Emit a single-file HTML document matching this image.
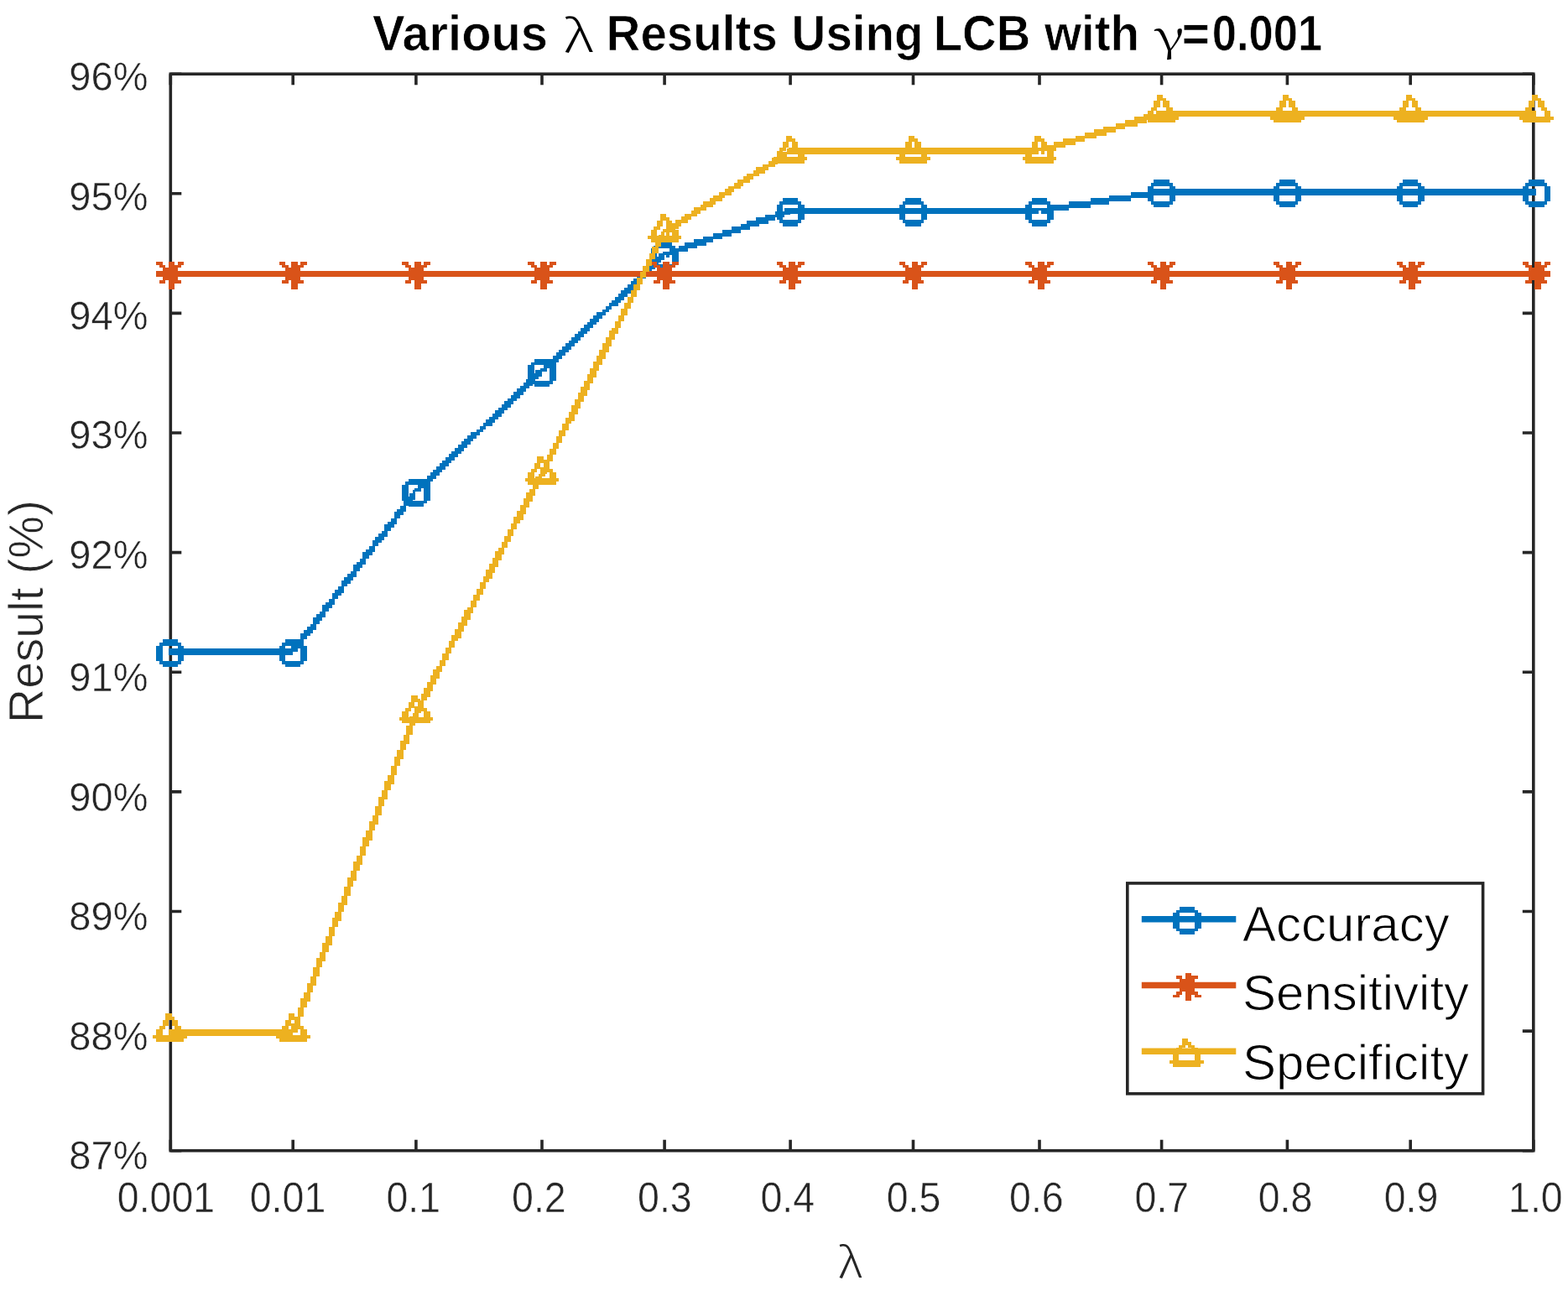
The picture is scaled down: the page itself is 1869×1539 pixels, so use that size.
<!DOCTYPE html>
<html><head><meta charset="utf-8"><title>Various lambda Results Using LCB</title>
<style>
html,body{margin:0;padding:0;background:#fff;}
body{width:1869px;height:1539px;overflow:hidden;}
svg{display:block;}
text{font-family:"Liberation Sans",Arial,Helvetica,sans-serif;}
.g{font-family:"Liberation Serif","DejaVu Serif",serif;font-weight:normal;}
.gl{font-family:"Noto Sans CJK SC","Liberation Serif",serif;}
.gg{font-family:"Noto Serif CJK SC","Liberation Serif",serif;}
</style></head><body>
<svg width="1869" height="1539" viewBox="0 0 1869 1539">
<rect x="0" y="0" width="1869" height="1539" fill="#fff"/>
<path d="M203.3 1371.7V1358.7M203.3 88.2V101.2M349.2 1371.7V1358.7M349.2 88.2V101.2M495.9 1371.7V1358.7M495.9 88.2V101.2M646.0 1371.7V1358.7M646.0 88.2V101.2M792.1 1371.7V1358.7M792.1 88.2V101.2M942.1 1371.7V1358.7M942.1 88.2V101.2M1088.5 1371.7V1358.7M1088.5 88.2V101.2M1239.0 1371.7V1358.7M1239.0 88.2V101.2M1384.6 1371.7V1358.7M1384.6 88.2V101.2M1534.4 1371.7V1358.7M1534.4 88.2V101.2M1681.2 1371.7V1358.7M1681.2 88.2V101.2M1827.8 1371.7V1358.7M1827.8 88.2V101.2M203.3 88.2H216.3M1827.8 88.2H1814.8M203.3 230.8H216.3M1827.8 230.8H1814.8M203.3 373.4H216.3M1827.8 373.4H1814.8M203.3 516.0H216.3M1827.8 516.0H1814.8M203.3 658.6H216.3M1827.8 658.6H1814.8M203.3 801.3H216.3M1827.8 801.3H1814.8M203.3 943.9H216.3M1827.8 943.9H1814.8M203.3 1086.5H216.3M1827.8 1086.5H1814.8M203.3 1229.1H216.3M1827.8 1229.1H1814.8M203.3 1371.7H216.3M1827.8 1371.7H1814.8" stroke="#262626" stroke-width="3.6" fill="none"/>
<rect x="203.3" y="88.2" width="1624.5" height="1283.5" fill="none" stroke="#262626" stroke-width="3.6"/>
<path d="M201 773H349V777H201ZM201 777H349V781H201ZM492 584H495V588H492ZM488 588H495V592H488ZM484 592H495V596H484ZM481 596H492V599H481ZM481 599H488V603H481ZM477 603H484V607H477ZM473 607H484V610H473ZM470 610H481V614H470ZM470 614H477V618H470ZM466 618H473V622H466ZM462 622H473V625H462ZM458 625H470V629H458ZM458 629H466V633H458ZM455 633H462V636H455ZM451 636H462V640H451ZM447 640H458V644H447ZM444 644H455V647H444ZM444 647H451V651H444ZM440 651H447V655H440ZM436 655H447V658H436ZM432 658H444V662H432ZM432 662H440V666H432ZM429 666H436V670H429ZM425 670H436V673H425ZM421 673H432V677H421ZM421 677H429V681H421ZM418 681H425V684H418ZM414 684H425V688H414ZM410 688H421V692H410ZM407 692H418V696H407ZM407 696H414V699H407ZM403 699H410V703H403ZM399 703H410V707H399ZM396 707H407V710H396ZM396 710H403V714H396ZM392 714H399V718H392ZM388 718H399V721H388ZM384 721H396V725H384ZM384 725H392V729H384ZM381 729H388V732H381ZM377 732H388V736H377ZM373 736H384V740H373ZM373 740H381V744H373ZM370 744H377V747H370ZM366 747H377V751H366ZM362 751H373V755H362ZM358 755H370V758H358ZM358 758H366V762H358ZM355 762H362V766H355ZM351 766H362V770H351ZM347 770H358V773H347ZM347 773H355V777H347ZM638 441H646V445H638ZM635 445H646V449H635ZM631 449H642V452H631ZM627 452H638V456H627ZM624 456H635V460H624ZM620 460H631V463H620ZM616 463H627V467H616ZM612 467H624V471H612ZM609 471H620V475H609ZM605 475H616V478H605ZM601 478H612V482H601ZM598 482H609V486H598ZM594 486H605V489H594ZM590 489H601V493H590ZM587 493H598V497H587ZM583 497H594V500H583ZM579 500H590V504H579ZM576 504H587V508H576ZM572 508H579V512H572ZM568 512H576V515H568ZM561 515H572V519H561ZM557 519H568V523H557ZM553 523H564V526H553ZM550 526H561V530H550ZM546 530H557V534H546ZM542 534H553V538H542ZM538 538H550V541H538ZM535 541H546V545H535ZM531 545H542V549H531ZM527 549H538V552H527ZM524 552H535V556H524ZM520 556H531V560H520ZM516 560H527V563H516ZM513 563H524V567H513ZM509 567H520V571H509ZM505 571H516V574H505ZM502 574H513V578H502ZM498 578H509V582H498ZM494 582H502V586H494ZM785 302H792V306H785ZM781 306H792V310H781ZM777 310H788V313H777ZM774 313H785V317H774ZM770 317H781V321H770ZM766 321H777V324H766ZM763 324H774V328H763ZM759 328H770V332H759ZM755 332H766V335H755ZM752 335H763V339H752ZM748 339H759V343H748ZM744 343H755V346H744ZM740 346H752V350H740ZM737 350H748V354H737ZM733 354H744V358H733ZM729 358H740V361H729ZM726 361H737V365H726ZM722 365H729V369H722ZM718 369H726V372H718ZM711 372H722V376H711ZM707 376H718V380H707ZM703 380H714V384H703ZM700 384H711V387H700ZM696 387H707V391H696ZM692 391H703V395H692ZM689 395H700V398H689ZM685 398H696V402H685ZM681 402H692V406H681ZM678 406H689V409H678ZM674 409H685V413H674ZM670 413H681V417H670ZM666 417H678V420H666ZM663 420H674V424H663ZM659 424H670V428H659ZM655 428H666V432H655ZM652 432H663V435H652ZM648 435H659V439H648ZM644 439H652V443H644ZM935 248H942V252H935ZM924 252H942V256H924ZM912 256H935V259H912ZM901 259H924V263H901ZM890 263H916V267H890ZM883 267H905V270H883ZM872 270H894V274H872ZM861 274H883V278H861ZM850 278H872V282H850ZM838 282H861V285H838ZM827 285H850V289H827ZM816 289H842V293H816ZM809 293H831V296H809ZM798 296H820V300H798ZM790 300H809V304H790ZM794 304H798V307H794ZM940 248H1088V251H940ZM940 251H1088V255H940ZM1087 248H1238V251H1087ZM1087 251H1238V255H1087ZM1370 225H1385V229H1370ZM1348 229H1385V233H1348ZM1322 233H1370V236H1322ZM1300 236H1348V240H1300ZM1274 240H1322V244H1274ZM1252 244H1300V248H1252ZM1237 248H1274V251H1237ZM1241 251H1252V255H1241ZM1383 225H1534V229H1383ZM1383 229H1534V233H1383ZM1533 225H1681V229H1533ZM1533 229H1681V233H1533ZM1679 225H1831V229H1679ZM1679 229H1831V233H1679Z" fill="#0072BD"/>
<path d="M194 762H212V766H194ZM190 766H216V770H190ZM186 770H194V773H186ZM212 770H219V773H212ZM186 773H194V777H186ZM212 773H219V777H212ZM186 777H194V781H186ZM212 777H219V781H212ZM186 781H194V784H186ZM212 781H219V784H212ZM186 784H194V788H186ZM212 784H219V788H212ZM190 788H216V792H190ZM194 792H212V795H194ZM340 762H358V766H340ZM336 766H362V770H336ZM333 770H340V773H333ZM358 770H366V773H358ZM333 773H340V777H333ZM358 773H366V777H358ZM333 777H340V781H333ZM358 777H366V781H358ZM333 781H340V784H333ZM358 781H366V784H358ZM333 784H340V788H333ZM358 784H366V788H358ZM336 788H362V792H336ZM340 792H358V795H340ZM487 571H505V574H487ZM483 574H509V578H483ZM479 578H487V582H479ZM505 578H513V582H505ZM479 582H487V586H479ZM505 582H513V586H505ZM479 586H487V589H479ZM505 586H513V589H505ZM479 589H487V593H479ZM505 589H513V593H505ZM479 593H487V597H479ZM505 593H513V597H505ZM483 597H509V600H483ZM487 600H505V604H487ZM637 428H655V432H637ZM633 432H659V435H633ZM629 435H637V439H629ZM655 435H663V439H655ZM629 439H637V443H629ZM655 439H663V443H655ZM629 443H637V446H629ZM655 443H663V446H655ZM629 446H637V450H629ZM655 446H663V450H655ZM629 450H637V454H629ZM655 450H663V454H655ZM633 454H659V458H633ZM637 458H655V461H637ZM783 289H801V293H783ZM779 293H805V296H779ZM776 296H783V300H776ZM801 296H809V300H801ZM776 300H783V304H776ZM801 300H809V304H801ZM776 304H783V307H776ZM801 304H809V307H801ZM776 307H783V311H776ZM801 307H809V311H801ZM776 311H783V315H776ZM801 311H809V315H801ZM779 315H805V318H779ZM783 318H801V322H783ZM933 236H951V240H933ZM929 240H955V244H929ZM926 244H933V248H926ZM951 244H959V248H951ZM926 248H933V251H926ZM951 248H959V251H951ZM926 251H933V255H926ZM951 251H959V255H951ZM926 255H933V259H926ZM951 255H959V259H951ZM926 259H933V262H926ZM951 259H959V262H951ZM929 262H955V266H929ZM933 266H951V270H933ZM1079 236H1098V240H1079ZM1076 240H1101V244H1076ZM1072 244H1079V248H1072ZM1098 244H1105V248H1098ZM1072 248H1079V251H1072ZM1098 248H1105V251H1098ZM1072 251H1079V255H1072ZM1098 251H1105V255H1098ZM1072 255H1079V259H1072ZM1098 255H1105V259H1098ZM1072 259H1079V262H1072ZM1098 259H1105V262H1098ZM1076 262H1101V266H1076ZM1079 266H1098V270H1079ZM1230 236H1248V240H1230ZM1226 240H1252V244H1226ZM1222 244H1230V248H1222ZM1248 244H1256V248H1248ZM1222 248H1230V251H1222ZM1248 248H1256V251H1248ZM1222 251H1230V255H1222ZM1248 251H1256V255H1248ZM1222 255H1230V259H1222ZM1248 255H1256V259H1248ZM1222 259H1230V262H1222ZM1248 259H1256V262H1248ZM1226 262H1252V266H1226ZM1230 266H1248V270H1230ZM1375 214H1394V218H1375ZM1372 218H1398V222H1372ZM1368 222H1375V225H1368ZM1394 222H1401V225H1394ZM1368 225H1375V229H1368ZM1394 225H1401V229H1394ZM1368 229H1375V233H1368ZM1394 229H1401V233H1394ZM1368 233H1375V236H1368ZM1394 233H1401V236H1394ZM1368 236H1375V240H1368ZM1394 236H1401V240H1394ZM1372 240H1398V244H1372ZM1375 244H1394V247H1375ZM1525 214H1544V218H1525ZM1521 218H1547V222H1521ZM1518 222H1525V225H1518ZM1544 222H1551V225H1544ZM1518 225H1525V229H1518ZM1544 225H1551V229H1544ZM1518 229H1525V233H1518ZM1544 229H1551V233H1544ZM1518 233H1525V236H1518ZM1544 233H1551V236H1544ZM1518 236H1525V240H1518ZM1544 236H1551V240H1544ZM1521 240H1547V244H1521ZM1525 244H1544V247H1525ZM1672 214H1690V218H1672ZM1668 218H1694V222H1668ZM1665 222H1672V225H1665ZM1690 222H1698V225H1690ZM1665 225H1672V229H1665ZM1690 225H1698V229H1690ZM1665 229H1672V233H1665ZM1690 229H1698V233H1690ZM1665 233H1672V236H1665ZM1690 233H1698V236H1690ZM1665 236H1672V240H1665ZM1690 236H1698V240H1690ZM1668 240H1694V244H1668ZM1672 244H1690V247H1672ZM1822 214H1841V218H1822ZM1818 218H1844V222H1818ZM1815 222H1822V225H1815ZM1841 222H1848V225H1841ZM1815 225H1822V229H1815ZM1841 225H1848V229H1841ZM1815 229H1822V233H1815ZM1841 229H1848V233H1841ZM1815 233H1822V236H1815ZM1841 233H1848V236H1841ZM1815 236H1822V240H1815ZM1841 236H1848V240H1841ZM1818 240H1844V244H1818ZM1822 244H1841V247H1822Z" fill="#0072BD"/>
<path d="M201 323H349V327H201ZM201 327H349V330H201ZM347 323H495V327H347ZM347 327H495V330H347ZM494 323H646V327H494ZM494 327H646V330H494ZM644 323H792V327H644ZM644 327H792V330H644ZM790 323H942V327H790ZM790 327H942V330H790ZM940 323H1088V327H940ZM940 327H1088V330H940ZM1087 323H1238V327H1087ZM1087 327H1238V330H1087ZM1237 323H1385V327H1237ZM1237 327H1385V330H1237ZM1383 323H1534V327H1383ZM1383 327H1534V330H1383ZM1533 323H1681V327H1533ZM1533 327H1681V330H1533ZM1679 323H1831V327H1679ZM1679 327H1831V330H1679Z" fill="#D95319"/>
<path d="M186 312H194V316H186ZM201 312H208V316H201ZM212 312H219V316H212ZM190 316H197V319H190ZM201 316H216V319H201ZM194 319H212V323H194ZM186 323H219V327H186ZM186 327H219V330H186ZM194 330H212V334H194ZM190 334H197V338H190ZM201 334H216V338H201ZM201 338H208V341H201ZM201 341H208V345H201ZM333 312H340V316H333ZM347 312H355V316H347ZM358 312H366V316H358ZM336 316H344V319H336ZM347 316H362V319H347ZM340 319H358V323H340ZM333 323H366V327H333ZM333 327H366V330H333ZM340 330H358V334H340ZM336 334H344V338H336ZM347 334H362V338H347ZM347 338H355V341H347ZM347 341H355V345H347ZM479 312H487V316H479ZM494 312H502V316H494ZM505 312H513V316H505ZM483 316H490V319H483ZM494 316H509V319H494ZM487 319H505V323H487ZM479 323H513V327H479ZM479 327H513V330H479ZM487 330H505V334H487ZM483 334H490V338H483ZM494 334H509V338H494ZM494 338H502V341H494ZM494 341H502V345H494ZM629 312H637V316H629ZM644 312H652V316H644ZM655 312H663V316H655ZM633 316H640V319H633ZM644 316H659V319H644ZM637 319H655V323H637ZM629 323H663V327H629ZM629 327H663V330H629ZM637 330H655V334H637ZM633 334H640V338H633ZM644 334H659V338H644ZM644 338H652V341H644ZM644 341H652V345H644ZM776 312H783V316H776ZM790 312H798V316H790ZM801 312H809V316H801ZM779 316H787V319H779ZM790 316H805V319H790ZM783 319H801V323H783ZM776 323H809V327H776ZM776 327H809V330H776ZM783 330H801V334H783ZM779 334H787V338H779ZM790 334H805V338H790ZM790 338H798V341H790ZM790 341H798V345H790ZM926 312H933V316H926ZM940 312H948V316H940ZM951 312H959V316H951ZM929 316H937V319H929ZM940 316H955V319H940ZM933 319H951V323H933ZM926 323H959V327H926ZM926 327H959V330H926ZM933 330H951V334H933ZM929 334H937V338H929ZM940 334H955V338H940ZM940 338H948V341H940ZM940 341H948V345H940ZM1072 312H1079V316H1072ZM1087 312H1094V316H1087ZM1098 312H1105V316H1098ZM1076 316H1083V319H1076ZM1087 316H1101V319H1087ZM1079 319H1098V323H1079ZM1072 323H1105V327H1072ZM1072 327H1105V330H1072ZM1079 330H1098V334H1079ZM1076 334H1083V338H1076ZM1087 334H1101V338H1087ZM1087 338H1094V341H1087ZM1087 341H1094V345H1087ZM1222 312H1230V316H1222ZM1237 312H1245V316H1237ZM1248 312H1256V316H1248ZM1226 316H1233V319H1226ZM1237 316H1252V319H1237ZM1230 319H1248V323H1230ZM1222 323H1256V327H1222ZM1222 327H1256V330H1222ZM1230 330H1248V334H1230ZM1226 334H1233V338H1226ZM1237 334H1252V338H1237ZM1237 338H1245V341H1237ZM1237 341H1245V345H1237ZM1368 312H1375V316H1368ZM1383 312H1390V316H1383ZM1394 312H1401V316H1394ZM1372 316H1379V319H1372ZM1383 316H1398V319H1383ZM1375 319H1394V323H1375ZM1368 323H1401V327H1368ZM1368 327H1401V330H1368ZM1375 330H1394V334H1375ZM1372 334H1379V338H1372ZM1383 334H1398V338H1383ZM1383 338H1390V341H1383ZM1383 341H1390V345H1383ZM1518 312H1525V316H1518ZM1533 312H1540V316H1533ZM1544 312H1551V316H1544ZM1521 316H1529V319H1521ZM1533 316H1547V319H1533ZM1525 319H1544V323H1525ZM1518 323H1551V327H1518ZM1518 327H1551V330H1518ZM1525 330H1544V334H1525ZM1521 334H1529V338H1521ZM1533 334H1547V338H1533ZM1533 338H1540V341H1533ZM1533 341H1540V345H1533ZM1665 312H1672V316H1665ZM1679 312H1687V316H1679ZM1690 312H1698V316H1690ZM1668 316H1676V319H1668ZM1679 316H1694V319H1679ZM1672 319H1690V323H1672ZM1665 323H1698V327H1665ZM1665 327H1698V330H1665ZM1672 330H1690V334H1672ZM1668 334H1676V338H1668ZM1679 334H1694V338H1679ZM1679 338H1687V341H1679ZM1679 341H1687V345H1679ZM1815 312H1822V316H1815ZM1829 312H1837V316H1829ZM1841 312H1848V316H1841ZM1818 316H1826V319H1818ZM1829 316H1844V319H1829ZM1822 319H1841V323H1822ZM1815 323H1848V327H1815ZM1815 327H1848V330H1815ZM1822 330H1841V334H1822ZM1818 334H1826V338H1818ZM1829 334H1844V338H1829ZM1829 338H1837V341H1829ZM1829 341H1837V345H1829Z" fill="#D95319"/>
<path d="M201 1227H349V1231H201ZM201 1231H349V1235H201ZM492 850H499V854H492ZM488 854H499V857H488ZM488 857H495V861H488ZM488 861H495V865H488ZM484 865H492V868H484ZM484 868H492V872H484ZM484 872H492V876H484ZM481 876H488V879H481ZM481 879H488V883H481ZM477 883H488V887H477ZM477 887H484V891H477ZM477 891H484V894H477ZM473 894H481V898H473ZM473 898H481V902H473ZM470 902H481V905H470ZM470 905H477V909H470ZM470 909H477V913H470ZM466 913H473V916H466ZM466 916H473V920H466ZM466 920H473V924H466ZM462 924H470V928H462ZM462 928H470V931H462ZM458 931H470V935H458ZM458 935H466V939H458ZM458 939H466V942H458ZM455 942H462V946H455ZM455 946H462V950H455ZM451 950H462V953H451ZM451 953H458V957H451ZM451 957H458V961H451ZM447 961H455V965H447ZM447 965H455V968H447ZM447 968H455V972H447ZM444 972H451V976H444ZM444 976H451V979H444ZM440 979H451V983H440ZM440 983H447V987H440ZM440 987H447V990H440ZM436 990H444V994H436ZM436 994H444V998H436ZM432 998H444V1002H432ZM432 1002H440V1005H432ZM432 1005H440V1009H432ZM429 1009H436V1013H429ZM429 1013H436V1016H429ZM429 1016H436V1020H429ZM425 1020H432V1024H425ZM425 1024H432V1027H425ZM421 1027H432V1031H421ZM421 1031H429V1035H421ZM421 1035H429V1038H421ZM418 1038H425V1042H418ZM418 1042H425V1046H418ZM414 1046H425V1050H414ZM414 1050H421V1053H414ZM414 1053H421V1057H414ZM410 1057H418V1061H410ZM410 1061H418V1064H410ZM410 1064H418V1068H410ZM407 1068H414V1072H407ZM407 1072H414V1076H407ZM403 1076H414V1079H403ZM403 1079H410V1083H403ZM403 1083H410V1087H403ZM399 1087H407V1090H399ZM399 1090H407V1094H399ZM396 1094H407V1098H396ZM396 1098H403V1101H396ZM396 1101H403V1105H396ZM392 1105H399V1109H392ZM392 1109H399V1113H392ZM392 1113H399V1116H392ZM388 1116H396V1120H388ZM388 1120H396V1124H388ZM384 1124H396V1127H384ZM384 1127H392V1131H384ZM384 1131H392V1135H384ZM381 1135H388V1138H381ZM381 1138H388V1142H381ZM377 1142H388V1146H377ZM377 1146H384V1150H377ZM377 1150H384V1153H377ZM373 1153H381V1157H373ZM373 1157H381V1161H373ZM373 1161H381V1164H373ZM370 1164H377V1168H370ZM370 1168H377V1172H370ZM366 1172H377V1175H366ZM366 1175H373V1179H366ZM366 1179H373V1183H366ZM362 1183H370V1187H362ZM362 1187H370V1190H362ZM358 1190H370V1194H358ZM358 1194H366V1198H358ZM358 1198H366V1201H358ZM355 1201H362V1205H355ZM355 1205H362V1209H355ZM355 1209H362V1212H355ZM351 1212H358V1216H351ZM351 1216H358V1220H351ZM347 1220H358V1224H347ZM347 1224H355V1227H347ZM347 1227H355V1231H347ZM642 565H650V568H642ZM638 568H646V572H638ZM638 572H646V576H638ZM635 576H642V579H635ZM635 579H642V583H635ZM631 583H638V587H631ZM627 587H638V591H627ZM627 591H635V594H627ZM624 594H635V598H624ZM624 598H631V602H624ZM620 602H631V605H620ZM620 605H627V609H620ZM616 609H627V613H616ZM616 613H624V616H616ZM612 616H624V620H612ZM612 620H620V624H612ZM609 624H616V628H609ZM609 628H616V631H609ZM605 631H612V635H605ZM605 635H612V639H605ZM601 639H609V642H601ZM601 642H609V646H601ZM598 646H605V650H598ZM598 650H605V653H598ZM594 653H601V657H594ZM590 657H601V661H590ZM590 661H598V665H590ZM587 665H598V668H587ZM587 668H594V672H587ZM583 672H594V676H583ZM583 676H590V679H583ZM579 679H590V683H579ZM579 683H587V687H579ZM576 687H587V690H576ZM576 690H583V694H576ZM572 694H579V698H572ZM572 698H579V702H572ZM568 702H576V705H568ZM568 705H576V709H568ZM564 709H572V713H564ZM564 713H572V716H564ZM561 716H568V720H561ZM561 720H568V724H561ZM557 724H564V727H557ZM553 727H564V731H553ZM553 731H561V735H553ZM550 735H561V739H550ZM550 739H557V742H550ZM546 742H557V746H546ZM546 746H553V750H546ZM542 750H553V753H542ZM542 753H550V757H542ZM538 757H550V761H538ZM538 761H546V764H538ZM535 764H542V768H535ZM535 768H542V772H535ZM531 772H538V776H531ZM531 776H538V779H531ZM527 779H535V783H527ZM527 783H535V787H527ZM524 787H531V790H524ZM524 790H531V794H524ZM520 794H527V798H520ZM516 798H527V801H516ZM516 801H524V805H516ZM513 805H524V809H513ZM513 809H520V813H513ZM509 813H520V816H509ZM509 816H516V820H509ZM505 820H516V824H505ZM505 824H513V827H505ZM502 827H513V831H502ZM502 831H509V835H502ZM498 835H505V838H498ZM498 838H505V842H498ZM494 842H502V846H494ZM494 846H502V850H494ZM788 276H792V280H788ZM785 280H792V283H785ZM785 283H792V287H785ZM781 287H788V291H781ZM781 291H788V294H781ZM777 294H785V298H777ZM777 298H785V302H777ZM774 302H781V306H774ZM774 306H781V309H774ZM770 309H777V313H770ZM770 313H777V317H770ZM766 317H774V320H766ZM766 320H774V324H766ZM763 324H770V328H763ZM763 328H770V331H763ZM759 331H766V335H759ZM759 335H766V339H759ZM755 339H763V343H755ZM755 343H763V346H755ZM752 346H759V350H752ZM752 350H759V354H752ZM748 354H755V357H748ZM748 357H755V361H748ZM744 361H752V365H744ZM744 365H752V368H744ZM740 368H748V372H740ZM740 372H748V376H740ZM737 376H744V380H737ZM737 380H744V383H737ZM733 383H740V387H733ZM733 387H740V391H733ZM729 391H737V394H729ZM726 394H737V398H726ZM726 398H733V402H726ZM722 402H733V405H722ZM722 405H729V409H722ZM718 409H729V413H718ZM718 413H726V417H718ZM714 417H726V420H714ZM714 420H722V424H714ZM711 424H722V428H711ZM711 428H718V431H711ZM707 431H718V435H707ZM707 435H714V439H707ZM703 439H714V442H703ZM703 442H711V446H703ZM700 446H711V450H700ZM700 450H707V454H700ZM696 454H707V457H696ZM696 457H703V461H696ZM692 461H703V465H692ZM692 465H700V468H692ZM689 468H700V472H689ZM689 472H696V476H689ZM685 476H696V479H685ZM685 479H692V483H685ZM681 483H692V487H681ZM681 487H689V491H681ZM678 491H689V494H678ZM678 494H685V498H678ZM674 498H685V502H674ZM674 502H681V505H674ZM670 505H678V509H670ZM670 509H678V513H670ZM666 513H674V516H666ZM666 516H674V520H666ZM663 520H670V524H663ZM663 524H670V528H663ZM659 528H666V531H659ZM659 531H666V535H659ZM655 535H663V539H655ZM655 539H663V542H655ZM652 542H659V546H652ZM652 546H659V550H652ZM648 550H655V553H648ZM648 553H655V557H648ZM644 557H652V561H644ZM644 561H652V565H644ZM938 177H942V181H938ZM931 181H942V184H931ZM927 184H938V188H927ZM920 188H935V192H920ZM916 192H927V196H916ZM909 196H924V199H909ZM901 199H916V203H901ZM898 203H912V207H898ZM890 207H905V210H890ZM886 210H898V214H886ZM879 214H894V218H879ZM875 218H886V222H875ZM868 222H883V225H868ZM864 225H875V229H864ZM857 229H872V233H857ZM850 233H864V236H850ZM846 236H861V240H846ZM838 240H853V244H838ZM835 244H850V247H835ZM827 247H842V251H827ZM824 251H835V255H824ZM816 255H831V258H816ZM812 258H824V262H812ZM805 262H820V266H805ZM801 266H812V270H801ZM794 270H809V273H794ZM790 273H801V277H790ZM794 277H798V281H794ZM940 176H1088V180H940ZM940 180H1088V184H940ZM1087 176H1238V180H1087ZM1087 180H1238V184H1087ZM1378 132H1385V136H1378ZM1363 136H1385V139H1363ZM1352 139H1378V143H1352ZM1341 143H1367V147H1341ZM1330 147H1356V151H1330ZM1315 151H1341V154H1315ZM1304 154H1330V158H1304ZM1293 158H1319V162H1293ZM1282 162H1307V165H1282ZM1267 165H1293V169H1267ZM1256 169H1282V173H1256ZM1245 173H1270V176H1245ZM1237 176H1259V180H1237ZM1241 180H1245V184H1241ZM1383 132H1534V135H1383ZM1383 135H1534V139H1383ZM1533 132H1681V135H1533ZM1533 135H1681V139H1533ZM1679 132H1831V135H1679ZM1679 135H1831V139H1679Z" fill="#EDB120"/>
<path d="M197 1208H205V1212H197ZM197 1212H208V1216H197ZM194 1216H201V1220H194ZM205 1216H212V1220H205ZM194 1220H201V1223H194ZM205 1220H212V1223H205ZM190 1223H197V1227H190ZM208 1223H216V1227H208ZM186 1227H194V1231H186ZM212 1227H219V1231H212ZM186 1231H194V1234H186ZM212 1231H219V1234H212ZM182 1234H223V1238H182ZM186 1238H219V1242H186ZM344 1208H351V1212H344ZM344 1212H355V1216H344ZM340 1216H347V1220H340ZM351 1216H358V1220H351ZM340 1220H347V1223H340ZM351 1220H358V1223H351ZM336 1223H344V1227H336ZM355 1223H362V1227H355ZM333 1227H340V1231H333ZM358 1227H366V1231H358ZM333 1231H340V1234H333ZM358 1231H366V1234H358ZM329 1234H370V1238H329ZM333 1238H366V1242H333ZM490 829H498V833H490ZM490 833H501V837H490ZM487 837H494V840H487ZM498 837H505V840H498ZM487 840H494V844H487ZM498 840H505V844H498ZM483 844H490V848H483ZM501 844H509V848H501ZM479 848H487V851H479ZM505 848H513V851H505ZM479 851H487V855H479ZM505 851H513V855H505ZM476 855H516V859H476ZM479 859H513V862H479ZM640 544H648V548H640ZM640 548H652V552H640ZM637 552H644V555H637ZM648 552H655V555H648ZM637 555H644V559H637ZM648 555H655V559H648ZM633 559H640V563H633ZM652 559H659V563H652ZM629 563H637V566H629ZM655 563H663V566H655ZM629 566H637V570H629ZM655 566H663V570H655ZM626 570H666V574H626ZM629 574H663V578H629ZM787 255H794V259H787ZM787 259H798V263H787ZM783 263H790V266H783ZM794 263H801V266H794ZM783 266H790V270H783ZM794 266H801V270H794ZM779 270H787V274H779ZM798 270H805V274H798ZM776 274H783V278H776ZM801 274H809V278H801ZM776 278H783V281H776ZM801 278H809V281H801ZM772 281H812V285H772ZM776 285H809V289H776ZM937 162H944V165H937ZM937 165H948V169H937ZM933 169H940V173H933ZM944 169H951V173H944ZM933 173H940V176H933ZM944 173H951V176H944ZM929 176H937V180H929ZM948 176H955V180H948ZM926 180H933V184H926ZM951 180H959V184H951ZM926 184H933V187H926ZM951 184H959V187H951ZM922 187H962V191H922ZM926 191H959V195H926ZM1083 162H1090V165H1083ZM1083 165H1094V169H1083ZM1079 169H1087V173H1079ZM1090 169H1098V173H1090ZM1079 173H1087V176H1079ZM1090 173H1098V176H1090ZM1076 176H1083V180H1076ZM1094 176H1101V180H1094ZM1072 180H1079V184H1072ZM1098 180H1105V184H1098ZM1072 184H1079V187H1072ZM1098 184H1105V187H1098ZM1068 187H1109V191H1068ZM1072 191H1105V195H1072ZM1233 162H1241V165H1233ZM1233 165H1245V169H1233ZM1230 169H1237V173H1230ZM1241 169H1248V173H1241ZM1230 173H1237V176H1230ZM1241 173H1248V176H1241ZM1226 176H1233V180H1226ZM1245 176H1252V180H1245ZM1222 180H1230V184H1222ZM1248 180H1256V184H1248ZM1222 184H1230V187H1222ZM1248 184H1256V187H1248ZM1219 187H1259V191H1219ZM1222 191H1256V195H1222ZM1379 113H1386V117H1379ZM1379 117H1390V120H1379ZM1375 120H1383V124H1375ZM1386 120H1394V124H1386ZM1375 124H1383V128H1375ZM1386 124H1394V128H1386ZM1372 128H1379V132H1372ZM1390 128H1398V132H1390ZM1368 132H1375V135H1368ZM1394 132H1401V135H1394ZM1368 135H1375V139H1368ZM1394 135H1401V139H1394ZM1364 139H1405V143H1364ZM1368 143H1401V146H1368ZM1529 113H1536V117H1529ZM1529 117H1540V120H1529ZM1525 120H1533V124H1525ZM1536 120H1544V124H1536ZM1525 124H1533V128H1525ZM1536 124H1544V128H1536ZM1521 128H1529V132H1521ZM1540 128H1547V132H1540ZM1518 132H1525V135H1518ZM1544 132H1551V135H1544ZM1518 135H1525V139H1518ZM1544 135H1551V139H1544ZM1514 139H1555V143H1514ZM1518 143H1551V146H1518ZM1676 113H1683V117H1676ZM1676 117H1687V120H1676ZM1672 120H1679V124H1672ZM1683 120H1690V124H1683ZM1672 124H1679V128H1672ZM1683 124H1690V128H1683ZM1668 128H1676V132H1668ZM1687 128H1694V132H1687ZM1665 132H1672V135H1665ZM1690 132H1698V135H1690ZM1665 135H1672V139H1665ZM1690 135H1698V139H1690ZM1661 139H1702V143H1661ZM1665 143H1698V146H1665ZM1826 113H1833V117H1826ZM1826 117H1837V120H1826ZM1822 120H1829V124H1822ZM1833 120H1841V124H1833ZM1822 124H1829V128H1822ZM1833 124H1841V128H1833ZM1818 128H1826V132H1818ZM1837 128H1844V132H1837ZM1815 132H1822V135H1815ZM1841 132H1848V135H1841ZM1815 135H1822V139H1815ZM1841 135H1848V139H1841ZM1811 139H1852V143H1811ZM1815 143H1848V146H1815Z" fill="#EDB120"/>
<text transform="translate(176.5,108.4) scale(0.96,1)" font-size="49" fill="#262626" stroke="#fff" stroke-width="0.5" text-anchor="end">96%</text>
<text transform="translate(176.5,250.5) scale(0.96,1)" font-size="49" fill="#262626" stroke="#fff" stroke-width="0.5" text-anchor="end">95%</text>
<text transform="translate(176.5,392.9) scale(0.96,1)" font-size="49" fill="#262626" stroke="#fff" stroke-width="0.5" text-anchor="end">94%</text>
<text transform="translate(176.5,534.9) scale(0.96,1)" font-size="49" fill="#262626" stroke="#fff" stroke-width="0.5" text-anchor="end">93%</text>
<text transform="translate(176.5,677.9) scale(0.96,1)" font-size="49" fill="#262626" stroke="#fff" stroke-width="0.5" text-anchor="end">92%</text>
<text transform="translate(176.5,823.9) scale(0.96,1)" font-size="49" fill="#262626" stroke="#fff" stroke-width="0.5" text-anchor="end">91%</text>
<text transform="translate(176.5,967.0) scale(0.96,1)" font-size="49" fill="#262626" stroke="#fff" stroke-width="0.5" text-anchor="end">90%</text>
<text transform="translate(176.5,1108.9) scale(0.96,1)" font-size="49" fill="#262626" stroke="#fff" stroke-width="0.5" text-anchor="end">89%</text>
<text transform="translate(176.5,1251.9) scale(0.96,1)" font-size="49" fill="#262626" stroke="#fff" stroke-width="0.5" text-anchor="end">88%</text>
<text transform="translate(176.5,1394.2) scale(0.96,1)" font-size="49" fill="#262626" stroke="#fff" stroke-width="0.5" text-anchor="end">87%</text>
<text transform="translate(198.0,1444.8) scale(0.93,1)" font-size="50" fill="#262626" stroke="#fff" stroke-width="0.5" text-anchor="middle">0.001</text>
<text transform="translate(343.0,1444.8) scale(0.93,1)" font-size="50" fill="#262626" stroke="#fff" stroke-width="0.5" text-anchor="middle">0.01</text>
<text transform="translate(492.8,1444.8) scale(0.93,1)" font-size="50" fill="#262626" stroke="#fff" stroke-width="0.5" text-anchor="middle">0.1</text>
<text transform="translate(642.4,1444.8) scale(0.93,1)" font-size="50" fill="#262626" stroke="#fff" stroke-width="0.5" text-anchor="middle">0.2</text>
<text transform="translate(792.4,1444.8) scale(0.93,1)" font-size="50" fill="#262626" stroke="#fff" stroke-width="0.5" text-anchor="middle">0.3</text>
<text transform="translate(938.8,1444.8) scale(0.93,1)" font-size="50" fill="#262626" stroke="#fff" stroke-width="0.5" text-anchor="middle">0.4</text>
<text transform="translate(1089.0,1444.8) scale(0.93,1)" font-size="50" fill="#262626" stroke="#fff" stroke-width="0.5" text-anchor="middle">0.5</text>
<text transform="translate(1235.4,1444.8) scale(0.93,1)" font-size="50" fill="#262626" stroke="#fff" stroke-width="0.5" text-anchor="middle">0.6</text>
<text transform="translate(1384.9,1444.8) scale(0.93,1)" font-size="50" fill="#262626" stroke="#fff" stroke-width="0.5" text-anchor="middle">0.7</text>
<text transform="translate(1532.0,1444.8) scale(0.93,1)" font-size="50" fill="#262626" stroke="#fff" stroke-width="0.5" text-anchor="middle">0.8</text>
<text transform="translate(1682.0,1444.8) scale(0.93,1)" font-size="50" fill="#262626" stroke="#fff" stroke-width="0.5" text-anchor="middle">0.9</text>
<text transform="translate(1830.4,1444.8) scale(0.93,1)" font-size="50" fill="#262626" stroke="#fff" stroke-width="0.5" text-anchor="middle">1.0</text>
<text transform="translate(444.1,59.7) scale(0.988,1.0)" font-size="58.5" font-weight="bold" fill="#000" stroke="#fff" stroke-width="0.7">Various</text>
<text class="gl" transform="translate(672.5,62.1) scale(1.152,0.904)" font-size="58.5" font-weight="300" fill="#000">λ</text>
<text transform="translate(722.6,59.7) scale(0.966,1.0)" font-size="58.5" font-weight="bold" fill="#000" stroke="#fff" stroke-width="0.7">Results</text>
<text transform="translate(943.6,59.7) scale(0.966,1.0)" font-size="58.5" font-weight="bold" fill="#000" stroke="#fff" stroke-width="0.7">Using</text>
<text transform="translate(1112.8,59.7) scale(0.960,1.0)" font-size="58.5" font-weight="bold" fill="#000" stroke="#fff" stroke-width="0.7">LCB</text>
<text transform="translate(1244.9,59.7) scale(0.968,1.0)" font-size="58.5" font-weight="bold" fill="#000" stroke="#fff" stroke-width="0.7">with</text>
<text class="gg" transform="translate(1375.6,61.2) scale(1.193,0.876)" font-size="58.5" font-weight="300" fill="#000">γ</text>
<text transform="translate(1408.8,59.7) scale(0.970,1.0)" font-size="58.5" font-weight="bold" fill="#000" stroke="#fff" stroke-width="0.7">=</text>
<text transform="translate(1444.8,59.7) scale(0.898,1.0)" font-size="58.5" font-weight="bold" fill="#000" stroke="#fff" stroke-width="0.7">0.001</text>
<text transform="translate(51,729) rotate(-90)" font-size="57" fill="#262626" stroke="#fff" stroke-width="0.8" text-anchor="middle">Result (%)</text>
<text class="gl" transform="translate(999.6,1522.8) scale(0.943,0.858)" font-size="58" font-weight="300" fill="#262626">λ</text>
<rect x="1343.8" y="1052.9" width="423.8" height="250.9" fill="#fff" stroke="#262626" stroke-width="3.6"/>
<path d="M1360.8 1095.75H1473.3" stroke="#0072BD" stroke-width="7.4"/>
<path d="M1406 1081H1424V1085H1406ZM1402 1085H1428V1088H1402ZM1398 1088H1406V1092H1398ZM1424 1088H1432V1092H1424ZM1398 1092H1406V1096H1398ZM1424 1092H1432V1096H1424ZM1398 1096H1406V1099H1398ZM1424 1096H1432V1099H1424ZM1398 1099H1406V1103H1398ZM1424 1099H1432V1103H1424ZM1398 1103H1406V1107H1398ZM1424 1103H1432V1107H1424ZM1402 1107H1428V1110H1402ZM1406 1110H1424V1114H1406Z" fill="#0072BD"/>
<text x="1481" y="1121.5" font-size="60" fill="#000" stroke="#fff" stroke-width="1.0">Accuracy</text>
<path d="M1360.8 1174.5H1473.3" stroke="#D95319" stroke-width="7.4"/>
<path d="M1413 1160H1420V1163H1413ZM1402 1163H1409V1167H1402ZM1413 1163H1428V1167H1413ZM1406 1167H1424V1171H1406ZM1398 1171H1432V1174H1398ZM1398 1174H1432V1178H1398ZM1406 1178H1424V1182H1406ZM1402 1182H1409V1186H1402ZM1413 1182H1428V1186H1413ZM1398 1186H1406V1189H1398ZM1413 1186H1420V1189H1413ZM1424 1186H1432V1189H1424ZM1413 1189H1420V1193H1413Z" fill="#D95319"/>
<text x="1481" y="1204.3" font-size="60" fill="#000" stroke="#fff" stroke-width="1.0">Sensitivity</text>
<path d="M1360.8 1253.3H1473.3" stroke="#EDB120" stroke-width="7.4"/>
<path d="M1409 1238H1416V1242H1409ZM1409 1242H1420V1246H1409ZM1405 1246H1413V1249H1405ZM1416 1246H1424V1249H1416ZM1402 1249H1409V1253H1402ZM1420 1249H1428V1253H1420ZM1402 1253H1409V1257H1402ZM1420 1253H1428V1257H1420ZM1398 1257H1405V1260H1398ZM1424 1257H1431V1260H1424ZM1398 1260H1405V1264H1398ZM1424 1260H1431V1264H1424ZM1394 1264H1435V1268H1394ZM1398 1268H1431V1272H1398Z" fill="#EDB120"/>
<text x="1481" y="1286.6" font-size="60" fill="#000" stroke="#fff" stroke-width="1.0">Specificity</text>
</svg>
</body></html>
